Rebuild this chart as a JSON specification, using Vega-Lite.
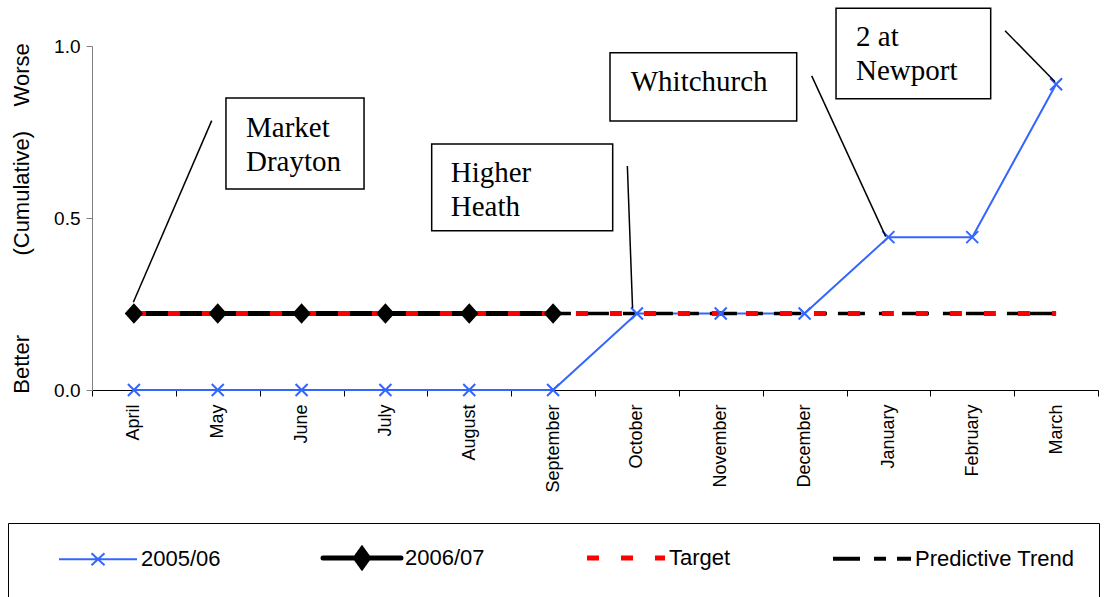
{
  "$schema": "https://vega.github.io/schema/vega-lite/v6.json",
  "width": 1006,
  "height": 344,
  "autosize": "none",
  "padding": {"left": 92, "top": 46, "right": 20, "bottom": 207},
  "background": "white",
  "config": {
    "view": {"stroke": null},
    "font": "Liberation Sans",
    "axis": {"grid": false, "labelFont": "Liberation Sans", "titleFont": "Liberation Sans", "labelColor": "black", "titleColor": "black"}
  },
  "datasets": {
    "series": [
      {"month": "April", "series": "2005/06", "value": 0},
      {"month": "May", "series": "2005/06", "value": 0},
      {"month": "June", "series": "2005/06", "value": 0},
      {"month": "July", "series": "2005/06", "value": 0},
      {"month": "August", "series": "2005/06", "value": 0},
      {"month": "September", "series": "2005/06", "value": 0},
      {"month": "October", "series": "2005/06", "value": 0.2222},
      {"month": "November", "series": "2005/06", "value": 0.2222},
      {"month": "December", "series": "2005/06", "value": 0.2222},
      {"month": "January", "series": "2005/06", "value": 0.4444},
      {"month": "February", "series": "2005/06", "value": 0.4444},
      {"month": "March", "series": "2005/06", "value": 0.8889},
      {"month": "April", "series": "2006/07", "value": 0.2222},
      {"month": "May", "series": "2006/07", "value": 0.2222},
      {"month": "June", "series": "2006/07", "value": 0.2222},
      {"month": "July", "series": "2006/07", "value": 0.2222},
      {"month": "August", "series": "2006/07", "value": 0.2222},
      {"month": "September", "series": "2006/07", "value": 0.2222},
      {"month": "April", "series": "Target", "value": 0.2222},
      {"month": "May", "series": "Target", "value": 0.2222},
      {"month": "June", "series": "Target", "value": 0.2222},
      {"month": "July", "series": "Target", "value": 0.2222},
      {"month": "August", "series": "Target", "value": 0.2222},
      {"month": "September", "series": "Target", "value": 0.2222},
      {"month": "October", "series": "Target", "value": 0.2222},
      {"month": "November", "series": "Target", "value": 0.2222},
      {"month": "December", "series": "Target", "value": 0.2222},
      {"month": "January", "series": "Target", "value": 0.2222},
      {"month": "February", "series": "Target", "value": 0.2222},
      {"month": "March", "series": "Target", "value": 0.2222},
      {"month": "April", "series": "Predictive Trend", "value": 0.2222},
      {"month": "May", "series": "Predictive Trend", "value": 0.2222},
      {"month": "June", "series": "Predictive Trend", "value": 0.2222},
      {"month": "July", "series": "Predictive Trend", "value": 0.2222},
      {"month": "August", "series": "Predictive Trend", "value": 0.2222},
      {"month": "September", "series": "Predictive Trend", "value": 0.2222},
      {"month": "October", "series": "Predictive Trend", "value": 0.2222},
      {"month": "November", "series": "Predictive Trend", "value": 0.2222},
      {"month": "December", "series": "Predictive Trend", "value": 0.2222},
      {"month": "January", "series": "Predictive Trend", "value": 0.2222},
      {"month": "February", "series": "Predictive Trend", "value": 0.2222},
      {"month": "March", "series": "Predictive Trend", "value": 0.2222}
    ],
    "boxes": [
      {"label": "Market Drayton", "x1": 1.598, "x2": 3.245, "y1": 0.849, "y2": 0.584},
      {"label": "Higher Heath", "x1": 4.052, "x2": 6.211, "y1": 0.715, "y2": 0.463},
      {"label": "Whitchurch", "x1": 6.179, "x2": 8.406, "y1": 0.9805, "y2": 0.782},
      {"label": "2 at Newport", "x1": 8.875, "x2": 10.72, "y1": 1.1096, "y2": 0.8468}
    ],
    "texts": [
      {"text": "Market\nDrayton", "tx": 1.837, "ty": 0.7355},
      {"text": "Higher\nHeath", "tx": 4.279, "ty": 0.6055},
      {"text": "Whitchurch", "tx": 6.426, "ty": 0.87},
      {"text": "2 at\nNewport", "tx": 9.114, "ty": 1.0009}
    ],
    "callouts": [
      {"x1": 1.428, "y1": 0.783, "x2": 0.493, "y2": 0.255},
      {"x1": 6.386, "y1": 0.651, "x2": 6.448, "y2": 0.238},
      {"x1": 8.585, "y1": 0.913, "x2": 9.468, "y2": 0.4457},
      {"x1": 10.891, "y1": 1.0445, "x2": 11.487, "y2": 0.896}
    ]
  },
  "resolve": {"scale": {"x": "independent"}},
  "layer": [
    {
      "data": {"name": "series"},
      "encoding": {
        "x": {
          "field": "month", "type": "nominal",
          "scale": {"type": "band", "paddingInner": 0, "paddingOuter": 0,
            "domain": ["April", "May", "June", "July", "August", "September", "October", "November", "December", "January", "February", "March"]},
          "axis": {"title": null, "labelAngle": -90, "labelFontSize": 18, "labelPadding": 8, "tickBand": "extent", "tickSize": 6, "tickColor": "black", "domainColor": "black", "labelLimit": 200}
        },
        "y": {
          "field": "value", "type": "quantitative",
          "scale": {"domain": [0, 1], "nice": false, "zero": false},
          "axis": {"values": [0, 0.5, 1], "format": ".1f", "labelFontSize": 19, "labelPadding": 6, "tickSize": 6, "tickColor": "#808080", "domainColor": "#808080",
            "title": "Better\u00a0\u00a0\u00a0\u00a0\u00a0\u00a0\u00a0\u00a0\u00a0\u00a0\u00a0\u00a0\u00a0(Cumulative)\u00a0\u00a0\u00a0\u00a0Worse",
            "titleFontSize": 22, "titleFontWeight": "normal", "titlePadding": 20}
        }
      },
      "layer": [
        {
          "transform": [{"filter": "datum.series === '2005/06'"}],
          "mark": {"type": "line", "strokeWidth": 2},
          "encoding": {
            "color": {
              "field": "series", "type": "nominal",
              "scale": {"domain": ["2005/06", "2006/07", "Target", "Predictive Trend"], "range": ["#3366ff", "#000000", "#ff0000", "#000000"]},
              "legend": {
                "title": null, "orient": "none", "legendX": -84, "legendY": 477,
                "direction": "horizontal", "columns": 4, "columnPadding": 75,
                "strokeColor": "black", "padding": 24,
                "symbolSize": 400, "symbolOffset": 55, "labelOffset": 32,
                "labelFont": "Liberation Sans", "labelFontSize": 22, "labelColor": "black", "labelLimit": 300,
                "encode": {
                  "symbols": {
                    "update": {
                      "shape": {"signal": "datum.value === '2005/06' ? 'M0,-1.25L0,-1.25M0,1.25L0,1.25M-3.9,0L3.9,0M-0.65,-0.6L0.65,0.6M-0.65,0.6L0.65,-0.6' : datum.value === '2006/07' ? 'M-3.9,0L3.9,0M-0.65,0L0,-0.9L0.65,0L0,0.9Z' : datum.value === 'Target' ? 'M0,-0.9L0,-0.9M0,0.9L0,0.9M-3.9,0L3.9,0' : 'M0,-0.95L0,-0.95M0,0.95L0,0.95M-3.9,0L3.9,0'"},
                      "stroke": {"signal": "datum.value === '2005/06' ? '#3366ff' : datum.value === 'Target' ? '#ff0000' : '#000000'"},
                      "fill": {"signal": "datum.value === '2005/06' ? '#3366ff' : datum.value === 'Target' ? '#ff0000' : '#000000'"},
                      "strokeWidth": {"signal": "datum.value === '2005/06' ? 2 : datum.value === 'Predictive Trend' ? 4 : 5"},
                      "strokeDash": {"signal": "datum.value === 'Target' ? [12, 22] : datum.value === 'Predictive Trend' ? [27, 14, 12, 11] : [1, 0]"},
                      "strokeCap": {"signal": "datum.value === '2006/07' ? 'round' : 'butt'"},
                      "opacity": {"value": 1}
                    }
                  }
                }
              }
            }
          }
        },
        {
          "transform": [{"filter": "datum.series === 'Predictive Trend'"}],
          "mark": {"type": "line", "strokeWidth": 3.5, "strokeDash": [27, 14, 12, 11]},
          "encoding": {"color": {"field": "series", "type": "nominal"}}
        },
        {
          "transform": [{"filter": "datum.series === '2006/07'"}],
          "mark": {"type": "line", "strokeWidth": 5},
          "encoding": {"color": {"field": "series", "type": "nominal"}}
        },
        {
          "transform": [{"filter": "datum.series === 'Target'"}],
          "mark": {"type": "line", "strokeWidth": 5, "strokeDash": [12, 22]},
          "encoding": {"color": {"field": "series", "type": "nominal"}}
        },
        {
          "transform": [{"filter": "datum.series === '2006/07'"}],
          "mark": {"type": "point", "shape": "M-0.9,0L0,-1L0.9,0L0,1Z", "filled": true, "color": "#000000", "size": 420, "opacity": 1}
        },
        {
          "transform": [{"filter": "datum.series === '2005/06'"}],
          "mark": {"type": "point", "shape": "M-1,-1L1,1M-1,1L1,-1", "filled": false, "color": "#3366ff", "strokeWidth": 2, "size": 144, "opacity": 1}
        }
      ]
    },
    {
      "layer": [
        {
          "data": {"name": "callouts"},
          "mark": {"type": "rule", "color": "black", "strokeWidth": 1.5},
          "encoding": {
            "x": {"field": "x1", "type": "quantitative", "scale": {"domain": [0, 12], "nice": false, "zero": false}, "axis": null},
            "x2": {"field": "x2"},
            "y": {"field": "y1", "type": "quantitative"},
            "y2": {"field": "y2"}
          }
        },
        {
          "data": {"name": "boxes"},
          "mark": {"type": "rect", "fill": "white", "stroke": "black", "strokeWidth": 1.5},
          "encoding": {
            "x": {"field": "x1", "type": "quantitative"},
            "x2": {"field": "x2"},
            "y": {"field": "y1", "type": "quantitative"},
            "y2": {"field": "y2"}
          }
        },
        {
          "data": {"name": "texts"},
          "mark": {"type": "text", "font": "Liberation Serif", "fontSize": 29, "align": "left", "baseline": "alphabetic", "lineBreak": "\n", "lineHeight": 34, "color": "black"},
          "encoding": {
            "x": {"field": "tx", "type": "quantitative"},
            "y": {"field": "ty", "type": "quantitative"},
            "text": {"field": "text"}
          }
        }
      ]
    }
  ]
}
